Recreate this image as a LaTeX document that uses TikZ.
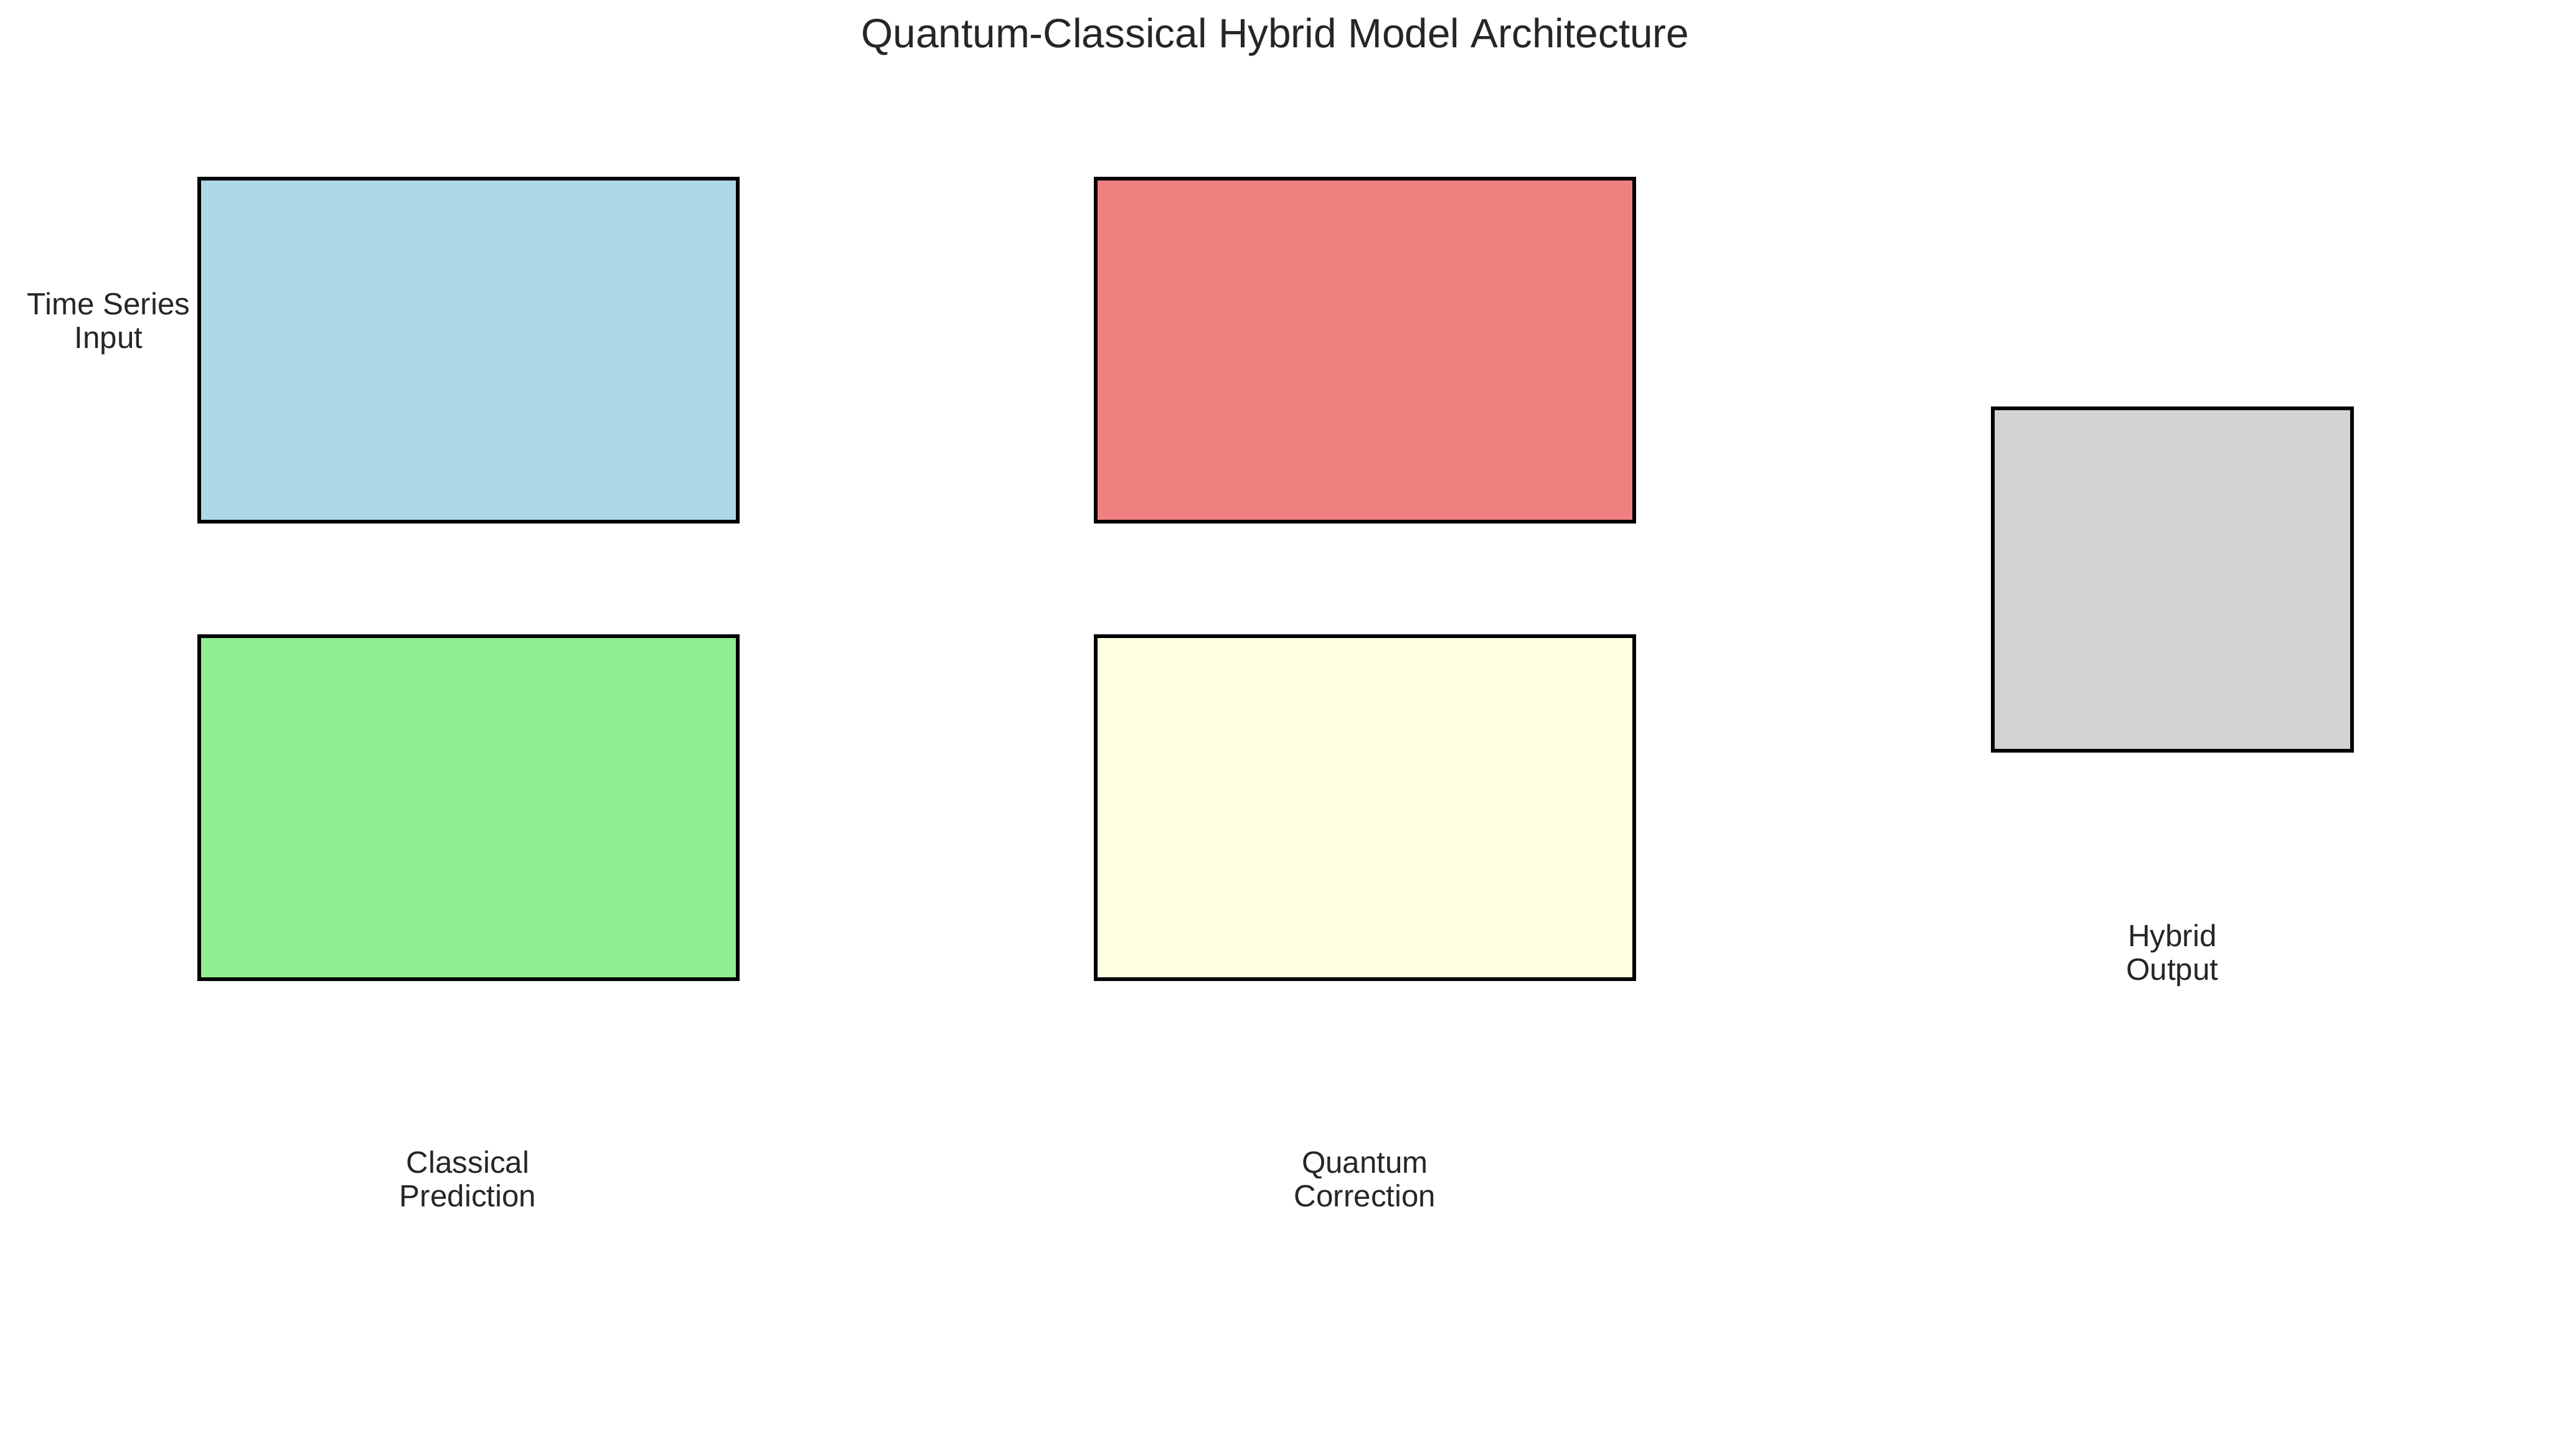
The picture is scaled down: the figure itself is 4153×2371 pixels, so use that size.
\documentclass[tikz,border=0pt]{standalone}
\usepackage{fontspec}
\setmainfont{Liberation Sans}
\definecolor{txt}{HTML}{262626}
\definecolor{cblue}{HTML}{ADD8E6}
\definecolor{cred}{HTML}{F08080}
\definecolor{cgreen}{HTML}{90EE90}
\definecolor{cyellow}{HTML}{FFFFE0}
\definecolor{cgray}{HTML}{D3D3D3}
\begin{document}
\begin{tikzpicture}[x=0.24pt,y=-0.24pt,
  blockbox/.style={draw=black, line width=1.45pt, inner sep=0pt, minimum width=210.4pt, minimum height=134pt},
  lbl/.style={text=txt, inner sep=0pt, anchor=base, font=\fontsize{12}{13}\selectfont},
  ttl/.style={text=txt, inner sep=0pt, anchor=base, font=\fontsize{16}{19}\selectfont}]
\useasboundingbox (0,0) rectangle (4153,2371);
\node[ttl] (title) at (2077,78) {Quantum-Classical Hybrid Model Architecture};
\node[blockbox, fill=cblue] (input) at (763,570.5) {};
\node[blockbox, fill=cred] (quantum) at (2223,570.5) {};
\node[blockbox, fill=cgreen] (classical) at (763,1315.5) {};
\node[blockbox, fill=cyellow] (correction) at (2223,1315.5) {};
\node[blockbox, fill=cgray, minimum width=140.2pt] (hybrid) at (3538,944) {};
\node[lbl] (linput) at (177,513) {\setlength{\tabcolsep}{0pt}\begin{tabular}[t]{c}Time Series\\Input\end{tabular}};
\node[lbl] (lclass) at (762,1911) {\setlength{\tabcolsep}{0pt}\begin{tabular}[t]{c}Classical\\Prediction\end{tabular}};
\node[lbl] (lquant) at (2223,1911) {\setlength{\tabcolsep}{0pt}\begin{tabular}[t]{c}Quantum\\Correction\end{tabular}};
\node[lbl] (lhyb) at (3538,1542) {\setlength{\tabcolsep}{0pt}\begin{tabular}[t]{c}Hybrid\\Output\end{tabular}};
\end{tikzpicture}
\end{document}
